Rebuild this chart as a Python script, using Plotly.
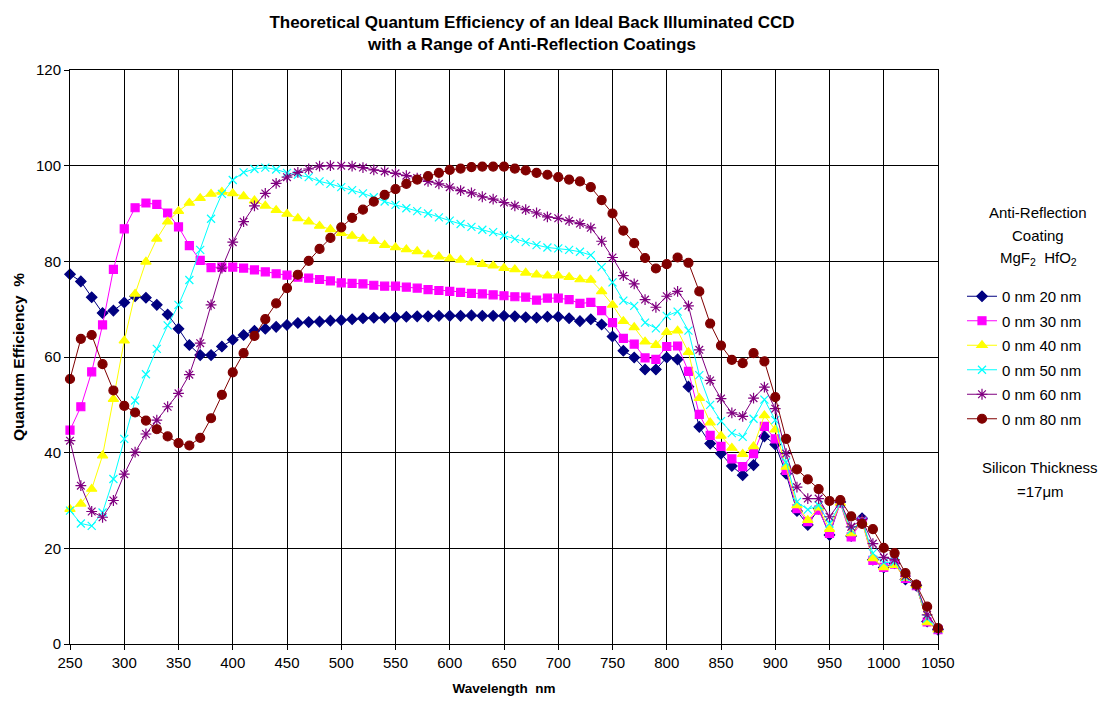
import plotly.graph_objects as go

wavelength = list(range(250, 1051, 10))

qe_20 = [77.3, 75.8, 72.5, 69.2, 69.7, 71.4, 72.7, 72.4, 70.9, 68.9,
         65.9, 62.5, 60.4, 60.4, 62.2, 63.6, 64.6, 65.5, 65.9, 66.3,
         66.7, 67.1, 67.3, 67.4, 67.6, 67.7, 67.9, 68.1, 68.2, 68.2,
         68.3, 68.4, 68.5, 68.5, 68.6, 68.6, 68.6, 68.7, 68.6, 68.6,
         68.6, 68.5, 68.3, 68.2, 68.4, 68.4, 68.1, 67.5, 67.9, 66.8,
         64.3, 61.3, 59.9, 57.4, 57.4, 59.9, 59.5, 53.8, 45.4, 41.9,
         39.8, 37.2, 35.3, 37.4, 43.4, 41.7, 35.6, 27.8, 24.9, 28.3,
         22.8, 29.7, 22.6, 26.3, 17.6, 16.0, 16.9, 13.5, 12.2, 4.7,
         3.0]
qe_30 = [44.7, 49.6, 56.9, 66.7, 78.3, 86.8, 91.2, 92.2, 91.9, 90.1,
         87.2, 83.3, 80.2, 78.7, 78.8, 78.8, 78.6, 78.2, 77.8, 77.4,
         77.1, 76.7, 76.5, 76.2, 75.9, 75.5, 75.4, 75.3, 75.0, 74.8,
         74.8, 74.6, 74.4, 74.1, 73.9, 73.7, 73.5, 73.3, 73.2, 73.0,
         72.8, 72.6, 72.5, 71.9, 72.3, 72.3, 72.0, 71.2, 71.4, 69.7,
         67.2, 63.9, 62.7, 59.8, 59.5, 62.2, 62.3, 57.0, 48.0, 43.6,
         41.3, 38.7, 37.1, 39.8, 45.5, 42.9, 36.3, 28.3, 25.6, 28.0,
         23.1, 29.4, 22.4, 25.6, 17.5, 16.0, 16.7, 13.7, 12.2, 4.6,
         3.0]
qe_40 = [28.2, 29.3, 32.4, 39.4, 51.2, 63.4, 73.2, 79.9, 84.7, 88.3,
         90.5, 92.2, 93.2, 94.1, 94.5, 94.2, 93.6, 92.7, 91.6, 90.7,
         89.9, 89.0, 88.3, 87.4, 86.7, 85.9, 85.3, 84.7, 84.2, 83.4,
         82.9, 82.5, 82.1, 81.4, 81.0, 80.6, 80.3, 79.8, 79.4, 79.1,
         78.6, 78.3, 77.6, 77.2, 77.0, 77.0, 76.7, 76.2, 76.1, 73.7,
         70.9, 67.5, 66.2, 63.2, 62.5, 65.2, 65.5, 61.0, 51.4, 46.3,
         43.5, 41.0, 39.7, 41.3, 47.8, 44.8, 37.0, 29.0, 25.9, 28.5,
         24.0, 29.5, 23.1, 25.5, 17.9, 16.0, 16.5, 13.8, 12.3, 4.5,
         3.0]
qe_50 = [27.9, 25.2, 24.7, 27.5, 34.5, 42.9, 50.9, 56.4, 61.7, 66.6,
         70.9, 76.1, 82.4, 88.9, 94.1, 97.0, 98.6, 99.3, 99.6, 99.2,
         98.5, 98.1, 97.6, 96.7, 96.2, 95.5, 94.9, 94.2, 93.4, 92.5,
         91.8, 91.1, 90.5, 90.0, 89.2, 88.5, 87.8, 87.2, 86.6, 86.1,
         85.4, 84.7, 84.0, 83.4, 82.9, 82.7, 82.4, 82.0, 81.3, 78.8,
         75.6, 71.8, 70.7, 67.2, 66.0, 68.6, 69.5, 65.5, 56.2, 50.0,
         46.6, 44.1, 43.3, 47.1, 51.1, 46.8, 38.0, 29.7, 28.1, 29.0,
         25.2, 29.4, 23.8, 25.8, 19.0, 17.0, 17.2, 14.0, 12.3, 5.3,
         3.1]
qe_60 = [42.5, 33.1, 27.7, 26.5, 30.0, 35.5, 40.1, 43.9, 46.8, 49.6,
         52.4, 56.3, 62.9, 70.9, 78.6, 84.0, 88.3, 91.6, 94.2, 96.3,
         97.6, 98.6, 99.3, 99.9, 100.0, 100.0, 99.9, 99.6, 99.1, 98.8,
         98.4, 97.9, 97.4, 96.7, 96.2, 95.5, 94.8, 94.3, 93.5, 93.0,
         92.3, 91.6, 90.8, 90.1, 89.3, 89.0, 88.5, 87.9, 87.0, 84.2,
         80.8, 77.0, 75.3, 72.0, 70.4, 72.7, 73.7, 70.7, 61.5, 55.1,
         51.3, 48.3, 47.6, 51.4, 53.7, 49.2, 39.8, 32.8, 30.4, 30.4,
         26.6, 29.7, 24.5, 26.0, 21.0, 18.1, 17.6, 14.2, 12.3, 6.1,
         3.2]
qe_80 = [55.4, 63.8, 64.6, 58.5, 53.0, 49.8, 48.4, 46.7, 44.9, 43.4,
         42.0, 41.5, 43.1, 47.2, 52.1, 56.8, 60.8, 64.4, 67.9, 71.2,
         74.4, 77.2, 80.1, 82.6, 84.9, 87.1, 89.1, 90.8, 92.5, 93.9,
         95.1, 96.2, 97.1, 97.8, 98.5, 99.1, 99.4, 99.7, 99.8, 99.8,
         99.8, 99.4, 99.0, 98.5, 98.1, 97.6, 97.1, 96.7, 95.5, 92.8,
         90.0, 86.4, 83.8, 80.7, 78.5, 79.4, 80.8, 79.7, 73.7, 67.0,
         62.4, 59.4, 58.7, 60.8, 59.1, 51.6, 42.9, 36.5, 34.4, 32.4,
         29.9, 30.1, 26.7, 25.1, 24.0, 20.1, 19.0, 14.8, 12.4, 7.8,
         3.3]

series_names = ["0 nm 20 nm", "0 nm 30 nm", "0 nm 40 nm",
                "0 nm 50 nm", "0 nm 60 nm", "0 nm 80 nm"]
series_values = [qe_20, qe_30, qe_40, qe_50, qe_60, qe_80]
colors = ["#000080", "#FF00FF", "#FFFF00", "#00FFFF", "#800080", "#800000"]
symbols = ["diamond", "square", "triangle-up", "x-thin-open", "asterisk-open", "circle"]
sizes = [8, 8, 9, 8, 9, 9]

FONT = "Arial, Liberation Sans, sans-serif"

fig = go.Figure()
for i, (name, vals) in enumerate(zip(series_names, series_values)):
    fig.add_trace(go.Scatter(
        x=wavelength, y=vals, name=name, mode="lines+markers",
        line=dict(color=colors[i], width=1),
        marker=dict(symbol=symbols[i], size=sizes[i], color=colors[i],
                    line=dict(color=colors[i], width=1.2)),
        cliponaxis=False, legendgroup=f"g{i}",
    ))

L, R, T, B = 70, 171, 70, 67
W, H = 1109, 711
pw = W - L - R
ph = H - T - B

def px_x(px):
    return (px - L) / pw

def px_y(py):
    return (H - B - py) / ph

fig.update_layout(
    width=W, height=H,
    margin=dict(l=L, r=R, t=T, b=B),
    paper_bgcolor="white", plot_bgcolor="white",
    font=dict(family=FONT, size=15, color="black"),
    title=dict(
        text="<b>Theoretical Quantum Efficiency of an Ideal Back Illuminated CCD<br>with a Range of Anti-Reflection Coatings</b>",
        x=532 / W, xanchor="center", y=1 - 28 / H, yanchor="middle",
        font=dict(family=FONT, size=17, color="black"),
    ),
    xaxis=dict(
        range=[250, 1050], dtick=50, tick0=250,
        showgrid=True, gridcolor="black", gridwidth=1,
        showline=True, linecolor="black", linewidth=1, mirror=True,
        ticks="outside", ticklen=5, tickcolor="black",
        tickfont=dict(size=15),
        title=dict(text="<b>Wavelength\u00a0 nm</b>", font=dict(size=13.5), standoff=13),
        zeroline=False,
    ),
    yaxis=dict(
        range=[0, 120], dtick=20,
        showgrid=True, gridcolor="black", gridwidth=1,
        showline=True, linecolor="black", linewidth=1, mirror=True,
        ticks="outside", ticklen=5, tickcolor="black",
        tickfont=dict(size=15),
        title=dict(text="<b>Quantum Efficiency\u00a0 %</b>", font=dict(size=15.5), standoff=7),
        zeroline=False,
    ),
    legend=dict(
        x=px_x(962), y=px_y(280), xanchor="left", yanchor="top",
        font=dict(size=15), bgcolor="rgba(0,0,0,0)",
        tracegroupgap=2, itemwidth=30,
    ),
    showlegend=True,
)

anns = [
    ("Anti-Reflection", 1038, 213),
    ("Coating", 1038, 236),
    ("MgF<sub>2</sub>\u00a0 HfO<sub>2</sub>", 1038, 258),
    ("Silicon Thickness", 1040, 467),
    ("=17\u03bcm", 1040, 491),
]
for text, ax, ay in anns:
    fig.add_annotation(text=text, xref="paper", yref="paper",
                       x=px_x(ax), y=px_y(ay), xanchor="center", yanchor="middle",
                       showarrow=False, font=dict(size=15, family=FONT))

fig.write_html("out.html")
